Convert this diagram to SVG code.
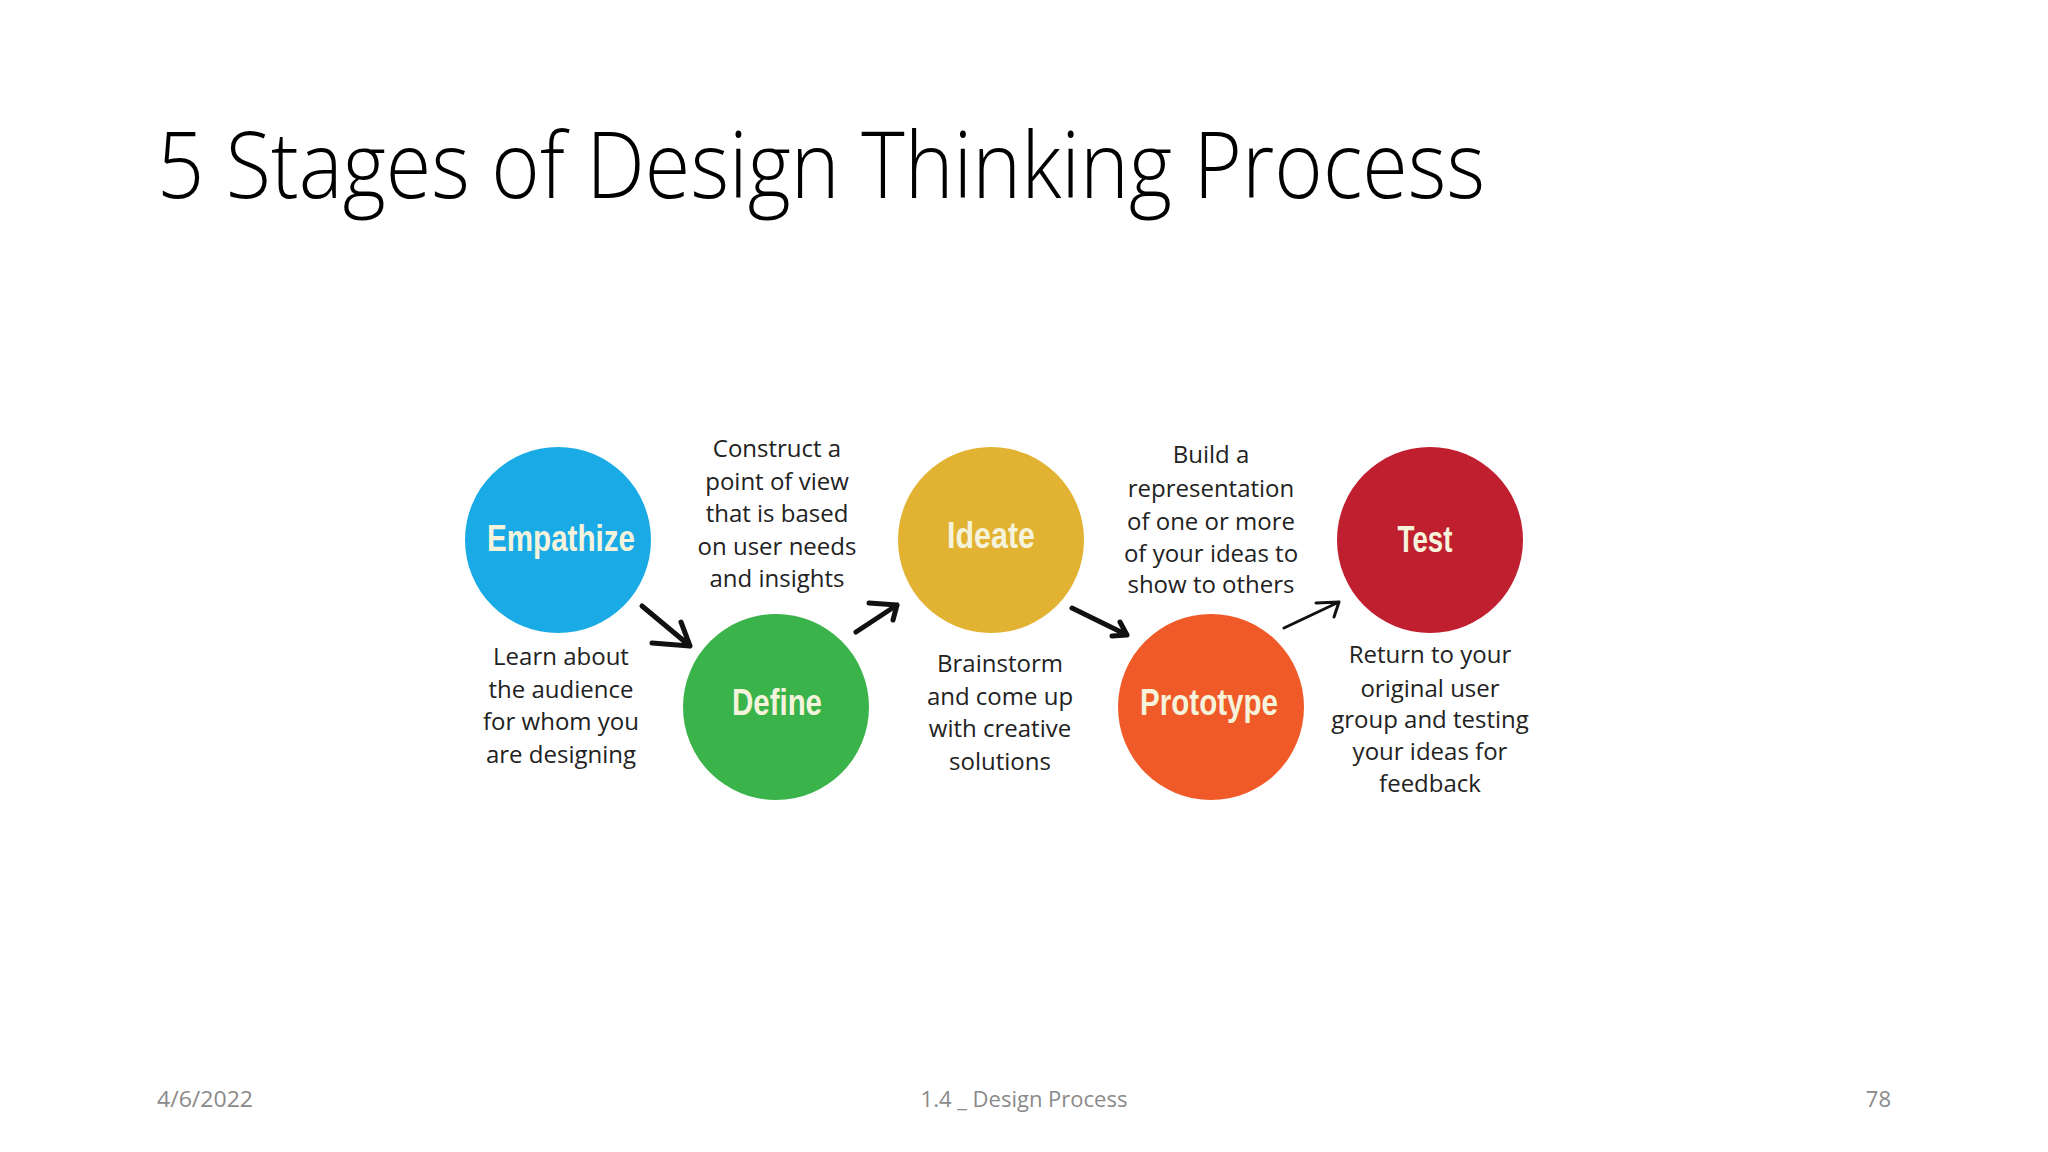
<svg xmlns="http://www.w3.org/2000/svg" width="2048" height="1152" viewBox="0 0 2048 1152">
<defs>
<style>
.title{font-family:"Open Sans","Liberation Sans",sans-serif;font-weight:300;font-size:92px;fill:#000}
.foot{font-family:"Open Sans","Liberation Sans",sans-serif;font-size:22px;fill:#8a8a8a}
.lbl{font-family:"Liberation Sans","DejaVu Sans",sans-serif;font-weight:bold;font-size:36px;fill:#f6f3dc;text-anchor:middle}
.desc{font-family:"Open Sans","Liberation Sans",sans-serif;font-size:24px;fill:#222;text-anchor:middle}
.arr{fill:none;stroke:#111;stroke-width:5;stroke-linecap:round;stroke-linejoin:round}
.arr.thin{stroke-width:3}
</style>
</defs>
<rect width="2048" height="1152" fill="#ffffff"/>
<text class="title" x="157" y="198" textLength="1328" lengthAdjust="spacingAndGlyphs">5 Stages of Design Thinking Process</text>

<g id="empathize">
<circle cx="558" cy="540" r="93" fill="#1aabe6"/>
<text class="lbl" x="561" y="551" textLength="148" lengthAdjust="spacingAndGlyphs">Empathize</text>
<text class="desc" x="561"><tspan x="561" y="665">Learn about</tspan><tspan x="561" y="698">the audience</tspan><tspan x="561" y="730">for whom you</tspan><tspan x="561" y="763">are designing</tspan></text>
</g>

<g id="define">
<circle cx="776" cy="707" r="93" fill="#3ab34a"/>
<text class="lbl" x="777" y="715" textLength="90" lengthAdjust="spacingAndGlyphs">Define</text>
<text class="desc"><tspan x="777" y="457">Construct a</tspan><tspan x="777" y="490">point of view</tspan><tspan x="777" y="522">that is based</tspan><tspan x="777" y="555">on user needs</tspan><tspan x="777" y="587">and insights</tspan></text>
</g>

<g id="ideate">
<circle cx="991" cy="540" r="93" fill="#e2b232"/>
<text class="lbl" x="991" y="548" textLength="88" lengthAdjust="spacingAndGlyphs">Ideate</text>
<text class="desc"><tspan x="1000" y="672">Brainstorm</tspan><tspan x="1000" y="705">and come up</tspan><tspan x="1000" y="737">with creative</tspan><tspan x="1000" y="770">solutions</tspan></text>
</g>

<g id="prototype">
<circle cx="1211" cy="707" r="93" fill="#f05a28"/>
<text class="lbl" x="1209" y="715" textLength="138" lengthAdjust="spacingAndGlyphs">Prototype</text>
<text class="desc"><tspan x="1211" y="463">Build a</tspan><tspan x="1211" y="497">representation</tspan><tspan x="1211" y="530">of one or more</tspan><tspan x="1211" y="562">of your ideas to</tspan><tspan x="1211" y="593">show to others</tspan></text>
</g>

<g id="test">
<circle cx="1430" cy="540" r="93" fill="#c01f2f"/>
<text class="lbl" x="1425" y="552" textLength="55" lengthAdjust="spacingAndGlyphs">Test</text>
<text class="desc"><tspan x="1430" y="663">Return to your</tspan><tspan x="1430" y="697">original user</tspan><tspan x="1430" y="728">group and testing</tspan><tspan x="1430" y="760">your ideas for</tspan><tspan x="1430" y="792">feedback</tspan></text>
</g>

<g id="connectors">
<path class="arr" d="M642 606 L690 646 M652 643 L690 646 L681 622"/>
<path class="arr" d="M856 632 L897 605 M869 603 L897 605 L893 620"/>
<path class="arr" d="M1072 608 L1127 635 M1112 636 L1127 635 L1120 622"/>
<path class="arr thin" d="M1284 628 L1339 602 M1316 603 L1339 602 L1334 617"/>
</g>

<text class="foot" x="157" y="1107" textLength="96" lengthAdjust="spacingAndGlyphs">4/6/2022</text>
<text class="foot" x="1024" y="1107" text-anchor="middle">1.4 _ Design Process</text>
<text class="foot" x="1891" y="1107" text-anchor="end">78</text>
</svg>
